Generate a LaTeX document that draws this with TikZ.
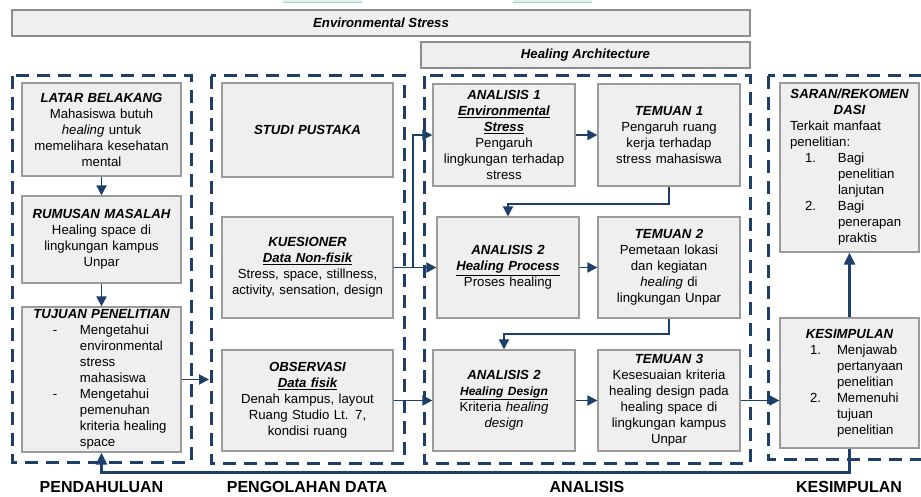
\documentclass[tikz,border=0pt]{standalone}
\usepackage{fontspec}
\setmainfont{Liberation Sans}
\usetikzlibrary{arrows.meta,calc}
\definecolor{navy}{HTML}{1D3F6A}
\definecolor{boxfill}{HTML}{EFEFEF}
\definecolor{boxline}{HTML}{9B9B9B}
\definecolor{barline}{HTML}{8C8C8C}
\definecolor{mint}{HTML}{E4F3ED}
\definecolor{mintline}{HTML}{9FD3BE}
\newcommand\bt[1]{{\bfseries\itshape #1}}
\newcommand\ul[1]{\underline{#1}}
\tikzset{
  gbox/.style={draw=boxline, fill=boxfill, line width=1.2pt, inner xsep=4pt, inner ysep=0pt,
    align=center, font=\fontsize{13.2}{16}\selectfont},
  lbox/.style={gbox, align=left},
  bar/.style={draw=barline, fill=boxfill, line width=1.3pt, inner sep=0pt,
    font=\fontsize{13.2}{16}\selectfont\bfseries\itshape},
  panel/.style={draw=navy, line width=3pt, dash pattern=on 13pt off 8pt},
  arr/.style={draw=navy, line width=1.9pt, -{Triangle[length=10pt,width=10pt]}},
  bigarr/.style={draw=navy, line width=2.3pt, -{Triangle[length=12pt,width=11pt]}},
  sect/.style={font=\fontsize{16}{18}\selectfont\bfseries, inner sep=0pt},
}
\begin{document}
\begin{tikzpicture}[x=1pt,y=-1pt]
\clip (0,0) rectangle (921,497);
\fill[white] (0,0) rectangle (921,497);
% faint fragments at top edge
\fill[mint] (283,0) rectangle (362,2.5);
\draw[mintline,line width=0.8pt] (283,2.5) -- (362,2.5);
\fill[mint] (513,0) rectangle (592,2.5);
\draw[mintline,line width=0.8pt] (513,2.5) -- (592,2.5);

% top bars
\node[bar, minimum width=738pt, minimum height=26pt] (envbar) at (381,23) {Environmental Stress};
\node[bar, minimum width=329pt, minimum height=26pt] (healbar) at (585.5,55) {Healing Architecture};

% dashed panels
\draw[panel] (12,76) rectangle (191,462);
\draw[panel] (211,76) rectangle (404,463);
\draw[panel] (424,76) rectangle (750,463);
\draw[panel] (768,76) rectangle (945,459);

% PENDAHULUAN
\node[gbox, minimum width=159pt, minimum height=93pt, text width=151pt] (latar) at (101.5,129.5)
  {\bt{LATAR BELAKANG}\\ Mahasiswa butuh\\ \textit{healing} untuk\\ memelihara kesehatan\\ mental};
\node[gbox, minimum width=159pt, minimum height=87pt, text width=151pt] (rumusan) at (101.5,239.5)
  {\bt{RUMUSAN MASALAH}\\ Healing space di\\ lingkungan kampus\\ Unpar};
\node[lbox, minimum width=159pt, minimum height=145pt, text width=151pt] (tujuan) at (101.5,379.5)
  {\makebox[151pt][c]{\bt{TUJUAN PENELITIAN}}\\
   \makebox[54pt][l]{\hspace*{27pt}-}Mengetahui\\
   \hspace*{54pt}environmental\\
   \hspace*{54pt}stress\\
   \hspace*{54pt}mahasiswa\\
   \makebox[54pt][l]{\hspace*{27pt}-}Mengetahui\\
   \hspace*{54pt}pemenuhan\\
   \hspace*{54pt}kriteria healing\\
   \hspace*{54pt}space};

% PENGOLAHAN DATA
\node[gbox, minimum width=171pt, minimum height=94pt, text width=163pt] (studi) at (307.5,130)
  {\bt{STUDI PUSTAKA}};
\node[gbox, minimum width=171pt, minimum height=101pt, text width=163pt] (kues) at (307.5,267.5)
  {\bt{KUESIONER}\\ \bt{\ul{Data Non-fisik}}\\ Stress, space, stillness,\\ activity, sensation, design};
\node[gbox, minimum width=171pt, minimum height=101pt, text width=163pt] (obs) at (307.5,400.5)
  {\bt{OBSERVASI}\\ \bt{\ul{Data fisik}}\\ Denah kampus, layout\\ Ruang Studio Lt. 7,\\ kondisi ruang};

% ANALISIS
\node[gbox, minimum width=142pt, minimum height=102pt, text width=134pt] (an1) at (504,135)
  {\bt{ANALISIS 1}\\ \bt{\ul{Environmental}}\\ \bt{\ul{Stress}}\\ Pengaruh\\ lingkungan terhadap\\ stress};
\node[gbox, minimum width=142pt, minimum height=102pt, text width=134pt] (tem1) at (669,135)
  {\bt{TEMUAN 1}\\ Pengaruh ruang\\ kerja terhadap\\ stress mahasiswa};
\node[gbox, minimum width=142pt, minimum height=101pt, text width=134pt] (an2) at (508,267.5)
  {\bt{ANALISIS 2}\\ \bt{\ul{Healing Process}}\\ Proses healing};
\node[gbox, minimum width=142pt, minimum height=101pt, text width=134pt] (tem2) at (669,267.5)
  {\bt{TEMUAN 2}\\ Pemetaan lokasi\\ dan kegiatan\\ \textit{healing} di\\ lingkungan Unpar};
\node[gbox, minimum width=142pt, minimum height=101pt, text width=134pt] (anD) at (504,400.5)
  {\bt{ANALISIS 2}\\ {\fontsize{12}{16}\selectfont\bt{\ul{Healing Design}}}\\ Kriteria \textit{healing}\\ \textit{design}};
\node[gbox, minimum width=142pt, minimum height=101pt, text width=134pt] (tem3) at (669,400.5)
  {\bt{TEMUAN 3}\\ Kesesuaian kriteria\\ healing design pada\\ healing space di\\ lingkungan kampus\\ Unpar};

% KESIMPULAN
\node[lbox, minimum width=139pt, minimum height=169pt, text width=131pt] (saran) at (849.5,167.5)
  {\makebox[131pt][c]{\bt{SARAN/REKOMEN}}\\
   \makebox[131pt][c]{\bt{DASI}}\\
   \hspace*{6pt}Terkait manfaat\\
   \hspace*{6pt}penelitian:\\
   \makebox[54pt][l]{\hspace*{21pt}1.}Bagi\\
   \hspace*{54pt}penelitian\\
   \hspace*{54pt}lanjutan\\
   \makebox[54pt][l]{\hspace*{21pt}2.}Bagi\\
   \hspace*{54pt}penerapan\\
   \hspace*{54pt}praktis};
\node[lbox, minimum width=139pt, minimum height=130pt, text width=131pt] (kesim) at (849.5,383)
  {\makebox[131pt][c]{\bt{KESIMPULAN}}\\
   \makebox[53pt][l]{\hspace*{26pt}1.}Menjawab\\
   \hspace*{53pt}pertanyaan\\
   \hspace*{53pt}penelitian\\
   \makebox[53pt][l]{\hspace*{26pt}2.}Memenuhi\\
   \hspace*{53pt}tujuan\\
   \hspace*{53pt}penelitian};

% section labels
\node[sect] (l1) at (101.5,487) {PENDAHULUAN};
\node[sect] (l2) at (307,487) {PENGOLAHAN DATA};
\node[sect] (l3) at (587,487) {ANALISIS};
\node[sect] (l4) at (849,487) {KESIMPULAN};

% connectors
\coordinate (p2in) at (209,379.5);
\coordinate (br) at (413,267.5);
\draw[arr] (latar.south) -- (rumusan.north);
\draw[arr] (rumusan.south) -- (tujuan.north);
\draw[arr] (tujuan.east) -- (p2in);
\draw[arr] (kues.east) -- (an2.west);
\draw[arr] (br) |- (an1.west);
\draw[arr] (obs.east) -- (anD.west);
\draw[arr] (an1.east) -- (tem1.west);
\draw[arr] (tem1.south) -- ++(0,17) -| (an2.north);
\draw[arr] (an2.east) -- (tem2.west);
\draw[arr] (tem2.south) -- ++(0,15) -| (anD.north);
\draw[arr] (anD.east) -- (tem3.west);
\draw[arr] (tem3.east) -- (tem3.east -| kesim.west);
\draw[bigarr] (kesim.north) -- (saran.south);
\draw[bigarr] (kesim.south) -- ++(0,24) -| (tujuan.south);
\end{tikzpicture}
\end{document}
